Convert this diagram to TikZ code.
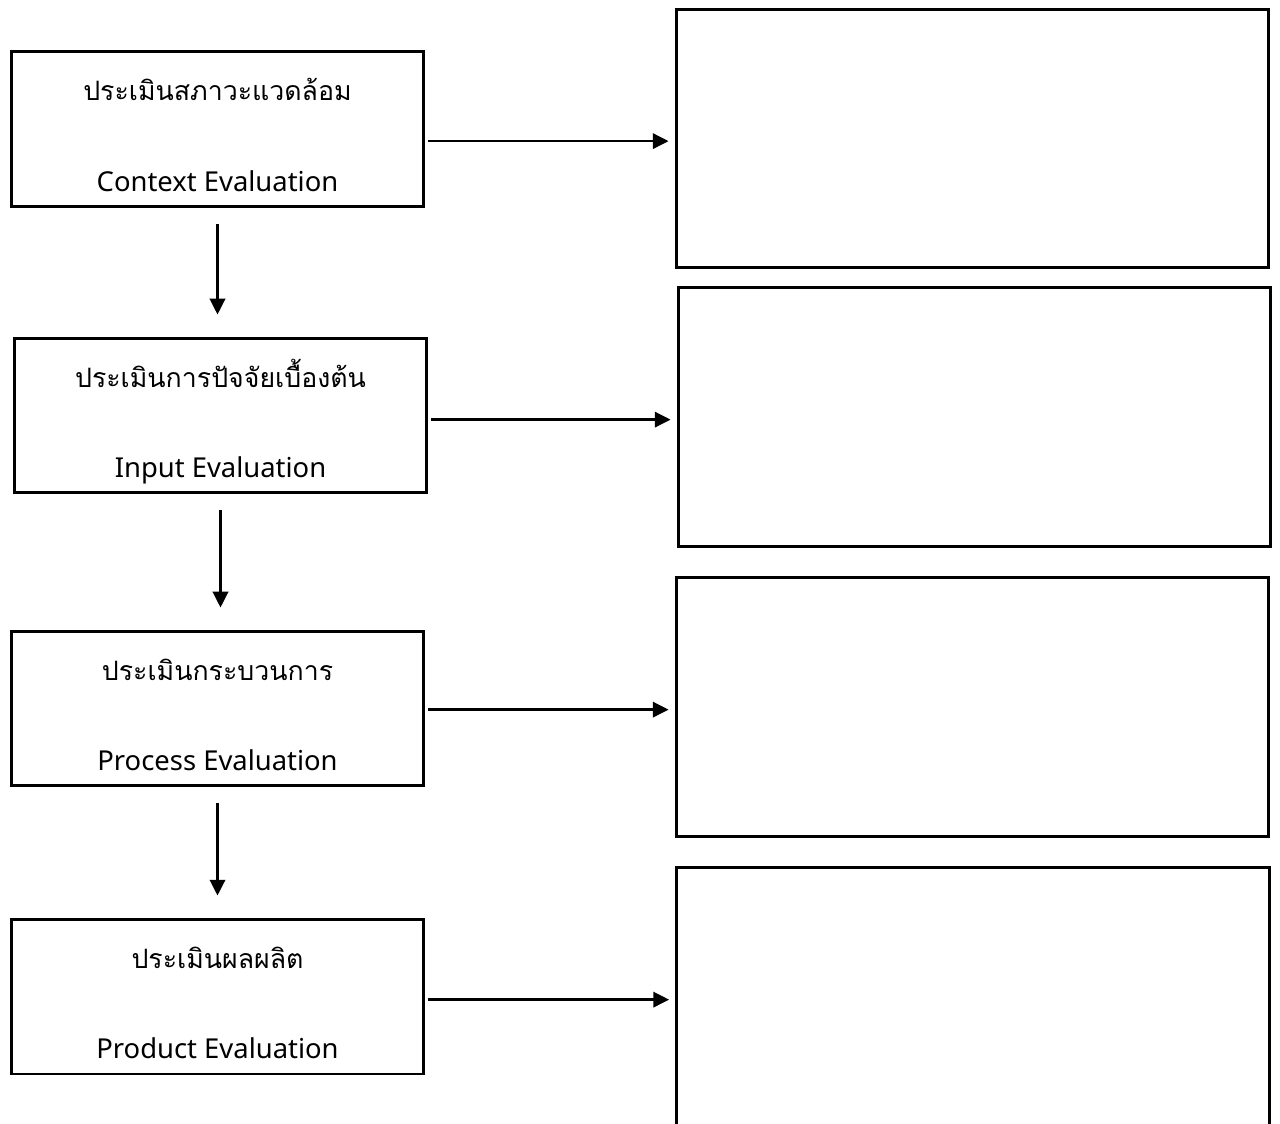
\documentclass[tikz,border=0pt]{standalone}
\usepackage{fontspec}
\setmainfont{Noto Sans}
\newfontfamily\thaifont[Script=Thai]{Loma}
\usetikzlibrary{arrows.meta,positioning}

\tikzset{
  stepleft/.style={draw, line width=1.7pt, minimum width=8.26cm, minimum height=3.1cm, inner sep=0pt},
  stepright/.style={draw, line width=1.7pt, minimum width=11.86cm, minimum height=5.17cm, inner sep=0pt},
  thlabel/.style={anchor=base, font=\thaifont\fontsize{15.2}{18}\selectfont},
  enlabel/.style={anchor=base, font=\fontsize{15.6}{18}\selectfont},
  flow/.style={line width=1.5pt, -{Triangle[length=9pt, width=8.7pt]}}
}

\begin{document}
\begin{tikzpicture}[x=0.02cm, y=-0.02cm]
\useasboundingbox (0,0) rectangle (1280,1124);
% CIPP steps on the left, empty boxes on the right
\foreach \n/\lx/\ly/\rx/\ry/\th/\en in {
  1/217.5/129/972.5/138.5/ประเมินสภาวะแวดล้อม/Context Evaluation,
  2/220.5/415.5/974.5/417/ประเมินการปัจจัยเบื้องต้น/Input Evaluation,
  3/217.5/708.5/972.5/707/ประเมินกระบวนการ/Process Evaluation,
  4/217.5/996.5/973/997/ประเมินผลผลิต/Product Evaluation} {
  \node[stepleft] (L\n) at (\lx,\ly) {};
  \node[stepright] (R\n) at (\rx,\ry) {};
  \node[thlabel] (T\n) at ([yshift=-29pt]L\n.north) {\th};
  \node[enlabel] (E\n) at ([yshift=9.5pt]L\n.south) {\en};
  \draw[flow, shorten <=1.7pt, shorten >=3.4pt] ([yshift=-1.5pt]L\n.east |- R\n.west) -- ([yshift=-1.5pt]R\n.west);
}
% downward arrows between the steps
\foreach \a/\b in {1/2, 2/3, 3/4}
  \draw[flow, shorten <=9pt, shorten >=12.5pt] (L\a.south) -- (L\a.south |- L\b.north);
\end{tikzpicture}
\end{document}
